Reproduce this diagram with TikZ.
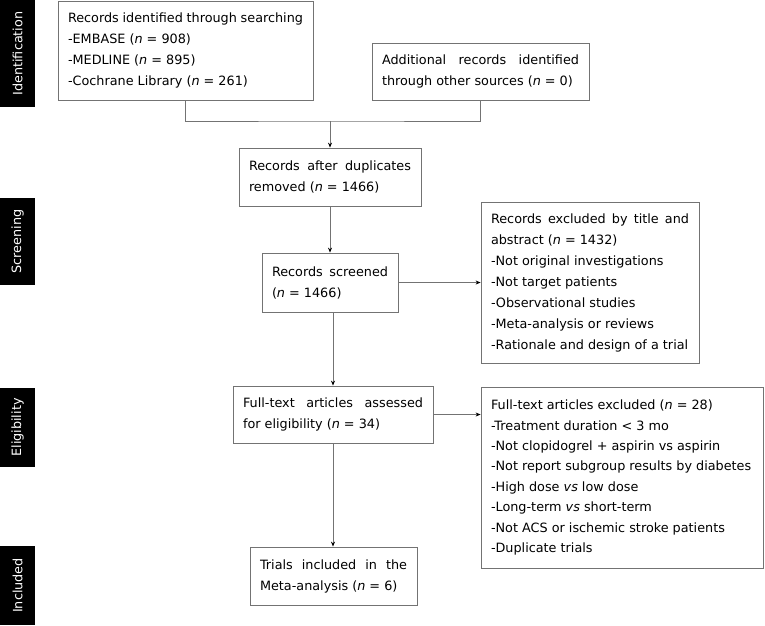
\documentclass[tikz,border=0pt]{standalone}
\usepackage{fontspec}
\setmainfont{DejaVu Sans}
\usetikzlibrary{arrows.meta}
\hyphenpenalty=10000
\exhyphenpenalty=10000
\begin{document}
\begin{tikzpicture}
        [x=1pt, y=-1pt,
        >={Stealth[black, length=5pt, width=4pt]},
        box/.style={draw=black!55, line width=0.8pt, inner xsep=10pt, inner ysep=3pt, align=justify,
          font=\fontsize{12.8}{21}\selectfont},
        phase/.style={fill=black, text=white, rotate=90, minimum height=35pt, inner sep=0pt,
          font=\fontsize{12.8}{15}\selectfont}]
        \useasboundingbox (0,0) rectangle (765,625);
        \node[phase, minimum width=107pt] (P1) at (17.5,53.5) {Identification};
        \node[phase, minimum width=87pt] (P2) at (17.5,241.5) {Screening};
        \node[phase, minimum width=79pt] (P3) at (17.5,427.5) {Eligibility};
        \node[phase, minimum width=79pt] (P4) at (17.5,585.5) {Included};
        
        \node[box, text width=235pt, minimum height=99pt] (search) at (185.5,50.5)
          {Records identified through searching\\-EMBASE (\textit{n} = 908)\\-MEDLINE (\textit{n} = 895)\\-Cochrane Library (\textit{n} = 261)};
        \node[box, text width=197pt, minimum height=57pt] (other) at (480.5,71.5)
          {Additional records identified\linebreak through other sources (\textit{n} = 0)};
        \node[box, text width=162pt, minimum height=58pt] (dedup) at (330,177)
          {Records after duplicates\linebreak removed (\textit{n} = 1466)};
        \node[box, text width=116pt, minimum height=59pt] (screened) at (330,282.5)
          {Records screened\linebreak (\textit{n} = 1466)};
        \node[box, text width=198pt, minimum height=161pt] (excl1) at (590,282.5)
          {Records excluded by title and\linebreak abstract (\textit{n} = 1432)\\-Not original investigations\\-Not target patients\\-Observational studies\\-Meta-analysis or reviews\\-Rationale and design of a trial};
        \node[box, text width=180pt, minimum height=57pt] (fulltext) at (333,414.5)
          {Full-text articles assessed\linebreak for eligibility (\textit{n} = 34)};
        \node[box, text width=262pt, minimum height=181pt, font=\fontsize{12.8}{20.4}\selectfont] (excl2) at (622,477.5)
          {Full-text articles excluded (\textit{n} = 28)\\-Treatment duration < 3 mo\\-Not clopidogrel + aspirin vs aspirin\\-Not report subgroup results by diabetes\\-High dose \textit{vs} low dose\\-Long-term \textit{vs} short-term\\-Not ACS or ischemic stroke patients\\-Duplicate trials};
        \node[box, text width=147pt, minimum height=58pt] (incl) at (333.5,576)
          {Trials included in the\linebreak Meta-analysis (\textit{n} = 6)};
        
        \coordinate (join) at (330,121);
        \draw[black!55, line width=0.8pt] (search.south) |- (join) -| (other.south);
        \draw[black!55, line width=0.8pt, ->] (join) -- (dedup.north);
        \draw[black!55, line width=0.8pt, ->] (dedup) -- (screened);
        \draw[black!55, line width=0.8pt, ->] (screened.east) -- (screened.east -| excl1.west);
        \draw[black!55, line width=0.8pt, ->] (fulltext.north |- screened.south) -- (fulltext.north);
        \draw[black!55, line width=0.8pt, ->] (fulltext.east) -- (fulltext.east -| excl2.west);
        \draw[black!55, line width=0.8pt, ->] (fulltext.south) -- (fulltext.south |- incl.north);
    \end{tikzpicture}
\end{document}
